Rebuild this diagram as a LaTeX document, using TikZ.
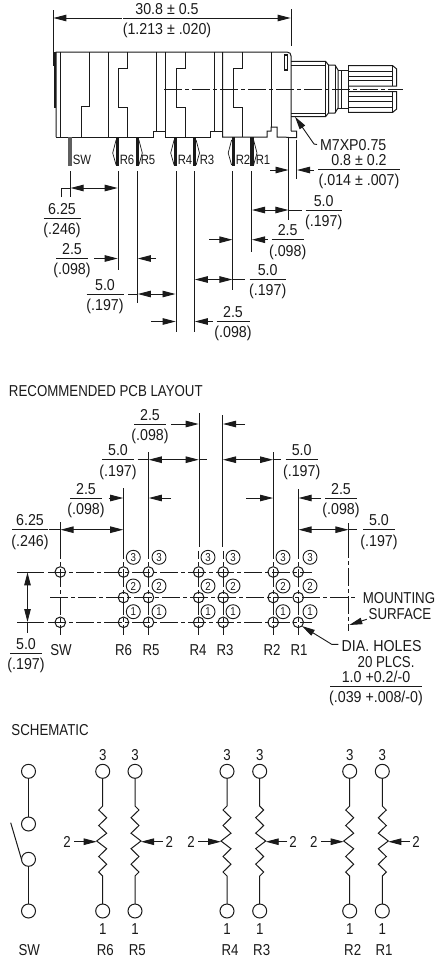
\documentclass[tikz,border=0pt]{standalone}
\usepackage{fontspec}
\setmainfont[FakeStretch=0.84]{Liberation Sans}
\newfontfamily\wider[FakeStretch=0.9]{Liberation Sans}
\usetikzlibrary{arrows.meta}
\definecolor{ink}{HTML}{1A1A1A}
\tikzset{
  x=1pt,y=-1pt,
  every node/.style={inner sep=0pt,outer sep=0pt,text=ink,font=\fontsize{15.8}{16}\selectfont,text height=11.3pt,text depth=0pt},
  body/.style={line width=1pt,draw=ink,line join=miter},
  ext/.style={line width=0.9pt,draw=ink},
  dimline/.style={line width=0.9pt,draw=ink},
  tipR/.style={-{Triangle[length=13pt,width=6.5pt]}},
  tipL/.style={{Triangle[length=13pt,width=6.5pt]}-},
  tipB/.style={{Triangle[length=13pt,width=6.5pt]}-{Triangle[length=13pt,width=6.5pt]}},
  cline/.style={line width=0.9pt,draw=ink,dash pattern=on 18pt off 3pt on 4pt off 3pt},
  hole/.style={circle,draw=ink,line width=1pt,minimum size=10.6pt,fill=none,text height=0pt},
  tag/.style={circle,draw=ink,line width=0.9pt,minimum size=14pt,font=\fontsize{11.5}{12}\selectfont,text height=8.2pt},
  term/.style={circle,draw=ink,line width=1pt,minimum size=14pt,fill=white,text height=0pt},
  small/.style={font=\fontsize{13.5}{14}\selectfont,text height=9.6pt},
  res/.style={line width=1pt,draw=ink,line join=miter}
}
\newcounter{fr}
\newcommand\dfrac[5]{% x, y, half width, top, bottom
  \stepcounter{fr}
  \node (ft\thefr) at (#1,#2-9.5) {\wider #4};
  \node (fb\thefr) at (#1,#2+10.8) {\wider #5};
  \draw[line width=0.9pt,draw=ink] (#1-#3,#2) -- (#1+#3,#2);
}
\newcommand\resis[7]{% name, x, sign, arrow tail x, 2 x, label x, label
  \node[term] (#1t) at (#2,771.3) {};
  \node[term] (#1b) at (#2,911) {};
  \node (#1n3) at (#2,754.5) {3};
  \node (#1n1) at (#2,929) {1};
  \node (#1w) at (#5,842) {2};
  \node (#1l) at (#6,950) {#7};
  \coordinate (#1tip) at (#2+#3*6,841.7);
  \draw[res] (#1t) -- (#2,806)
    -- (#2+#3*4,810) -- (#2-#3*4,817.7) -- (#2+#3*4,825.5) -- (#2-#3*4,833.2) -- (#2+#3*6,841)
    -- (#2-#3*4,848.7) -- (#2+#3*4,856.5) -- (#2-#3*4,864.2) -- (#2+#3*4,872) -- (#2,876) -- (#1b);
  \draw[dimline,tipR] (#4,841.7) -- (#1tip);
}
\begin{document}
\begin{tikzpicture}
\useasboundingbox (0,0) rectangle (435,959);
\fill[white] (0,0) rectangle (435,959);

% ---------- top view: overall dimension
\draw[ext] (53,10) -- (53,66);
\draw[ext] (291,9) -- (291,46);
\draw[dimline,tipL] (53.4,18) -- (122,18);
\draw[dimline,tipR] (207,18) -- (290.6,18);
\dfrac{167}{18}{44}{30.8 ± 0.5}{(1.213 ± .020)}

% body outline
\draw[body] (56,137) -- (56,52) -- (287,52) .. controls (290,52) and (291,54) .. (291,56) -- (291,131);
\draw[body] (56,137) -- (153,137) -- (153,131) -- (156.5,131) -- (156.5,52);
\draw[line width=2.4pt,draw=ink] (55,52) -- (55,108);
\draw[body] (60.5,52) -- (60.5,138);
\draw[body] (89.5,52) -- (89.5,106) -- (81.5,106) -- (81.5,137);
\draw[body] (108.5,52) -- (108.5,137);
\draw[body] (127.5,52) -- (127.5,68) -- (118.5,68) -- (118.5,107.5) -- (127.5,107.5) -- (127.5,137);
\draw[body] (156.5,131) -- (165.5,131);
\draw[body] (165.5,52) -- (165.5,137) -- (210,137) -- (210,131) -- (214,131) -- (214,52);
\draw[body] (185,52) -- (185,68) -- (176,68) -- (176,107.5) -- (185,107.5) -- (185,137);
\draw[body] (214,131) -- (222.7,131);
\draw[body] (222.7,52) -- (222.7,137) -- (267,137) -- (267,131) -- (271,131) -- (271,127) -- (277,127) -- (277,137) -- (284,137) -- (289,137.5) -- (296.5,137.5) -- (296.5,131) -- (291,131);
\draw[body] (242,52) -- (242,68) -- (233,68) -- (233,107.5) -- (242,107.5) -- (242,137);
\draw[body] (271,52) -- (271,127);
\draw[line width=1.2pt,draw=ink] (284.5,70) -- (284.5,55) -- (287.5,55) -- (287.5,70) -- cycle;

% bushing
\draw[body] (291,61.3) -- (325.5,61.3) -- (328.5,65) -- (328.5,113) -- (325.5,116.7) -- (291,116.7);
\draw[body] (291,65) -- (325.5,65) (325.5,61.3) -- (325.5,116.7) (291,113) -- (325.5,113);
\draw[body] (328.5,65) -- (335,65) -- (338,70) -- (338,108) -- (335,113) -- (328.5,113);
\draw[body] (335,65) -- (335,113);
\draw[body] (338,70) -- (348,70) (338,108) -- (348,108);
\draw[body] (341,70) -- (341,108);
% splined shaft
\draw[body] (348,65.7) -- (392.7,65.7) -- (396.7,69) -- (396.7,86) -- (348,86);
\draw[body] (348,91.7) -- (396.7,91.7) -- (396.7,109) -- (392.7,112.3) -- (348,112.3);
\draw[body] (348,65.7) -- (348,112.3);
\draw[body] (392.7,65.7) -- (392.7,86) (392.7,91.7) -- (392.7,112.3);
\foreach \yy in {71,76,80.7,96.7,101.7,107.3} \draw[line width=0.8pt,draw=ink] (348,\yy) -- (392.7,\yy);
\draw[cline] (164,89) -- (403,89);

% pins
\fill[ink!70] (68,137) rectangle (72,166);
\foreach \px/\sg in {117.7/-1,137.3/1,175.7/-1,194.5/1,233.2/-1,252/1}{
  \fill[ink] (\px-1.6,137) -- (\px+1.6,137) -- (\px+1.6,166) -- (\px-1.6,166) -- cycle;
  \draw[line width=0.7pt,draw=ink] (\px+\sg*1.6,140) -- (\px+\sg*5,153) -- (\px+\sg*1.6,165);
}
\node[small] (pSW) at (82,159.5) {SW};
\node[small] (pR6) at (127,159.5) {R6};
\node[small] (pR5) at (148,159.5) {R5};
\node[small] (pR4) at (185,159.5) {R4};
\node[small] (pR3) at (207,159.5) {R3};
\node[small] (pR2) at (243,159.5) {R2};
\node[small] (pR1) at (263,159.5) {R1};

% extension lines below pins
\draw[ext] (70.3,171) -- (70.3,197);
\draw[ext] (61,197) -- (61,188);
\draw[ext] (118,171) -- (118,270);
\draw[ext] (137.5,171) -- (137.5,302.5);
\draw[ext] (176,171) -- (176,332);
\draw[ext] (194.5,171) -- (194.5,332);
\draw[ext] (232.7,171) -- (232.7,290);
\draw[ext] (251.7,171) -- (251.7,251.5);
\draw[ext] (288.7,138) -- (288.7,220);
\draw[ext] (296.7,140) -- (296.7,179);

% M7 label & leader
\node[anchor=west] (m7) at (320,144.5) {\wider M7XP0.75};
\coordinate (m7tip) at (295,116.7);
\draw[dimline,tipR] (m7.west) ++(-3,0) -- (314,144) -- (m7tip);

% dims under body
\draw[dimline,tipR] (270,170) -- (288.5,170);
\draw[dimline,tipR] (314,170) -- (297,170);
\dfrac{359}{169.5}{41}{0.8 ± 0.2}{(.014 ± .007)}

\draw[dimline,tipB] (70.6,188) -- (117.7,188);
\draw[dimline] (61,188) -- (71,188);
\dfrac{62}{218.5}{18.5}{6.25}{(.246)}

\draw[dimline,tipR] (94,258.5) -- (117.7,258.5);
\draw[dimline,tipR] (156,258.5) -- (137.8,258.5);
\dfrac{72}{258.5}{16}{2.5}{(.098)}

\draw[dimline,tipB] (137.8,294) -- (175.5,294);
\draw[dimline] (128,294) -- (138,294);
\dfrac{105}{294}{18.5}{5.0}{(.197)}

\draw[dimline,tipR] (151,321.5) -- (175.7,321.5);
\draw[dimline,tipR] (213,321.5) -- (194.8,321.5);
\dfrac{233}{321.5}{16.5}{2.5}{(.098)}

\draw[dimline,tipB] (194.8,279.5) -- (232.4,279.5);
\draw[dimline] (232,279.5) -- (245,279.5);
\dfrac{267.7}{279.5}{18}{5.0}{(.197)}

\draw[dimline,tipR] (209,239.7) -- (232.4,239.7);
\draw[dimline,tipR] (267.7,239.7) -- (252,239.7);
\dfrac{287.7}{239.7}{16}{2.5}{(.098)}

\draw[dimline,tipB] (252,210) -- (288.4,210);
\draw[dimline] (288,210) -- (301.7,210);
\dfrac{323.7}{210}{18}{5.0}{(.197)}

% ---------- PCB layout
\node[anchor=west] (pcbt) at (9,391) {RECOMMENDED PCB LAYOUT};

\draw[ext] (60.3,522) -- (60.3,551);
\draw[ext] (123.5,488) -- (123.5,551);
\draw[ext] (148.5,452) -- (148.5,551);
\draw[ext] (199,413) -- (199,547);
\draw[ext] (222.7,415) -- (222.7,547);
\draw[ext] (273.3,452) -- (273.3,551);
\draw[ext] (298.3,489) -- (298.3,551);
\draw[ext] (348.7,523) -- (348.7,550);

\draw[dimline,tipR] (171,424) -- (198.7,424);
\draw[dimline,tipR] (245,424) -- (223,424);
\dfrac{150}{424}{16}{2.5}{(.098)}

\draw[dimline,tipB] (148.8,459.7) -- (198.7,459.7);
\draw[dimline] (137.5,459.7) -- (149,459.7) (198.5,459.7) -- (207,459.7);
\dfrac{118}{459.7}{16}{5.0}{(.197)}

\draw[dimline,tipB] (223,459.7) -- (273,459.7);
\draw[dimline] (272.8,459.7) -- (281,459.7);
\dfrac{301.7}{459.7}{16}{5.0}{(.197)}

\draw[dimline,tipR] (108.5,498) -- (123.2,498);
\draw[dimline,tipR] (171,498) -- (148.8,498);
\dfrac{86}{498}{16}{2.5}{(.098)}

\draw[dimline,tipR] (246,498) -- (273,498);
\draw[dimline,tipR] (321,498) -- (298.6,498);
\dfrac{341}{498}{16}{2.5}{(.098)}

\draw[dimline,tipB] (60.6,529.7) -- (123.2,529.7);
\draw[dimline] (48.5,529.7) -- (61,529.7);
\dfrac{30}{529.7}{18}{6.25}{(.246)}

\draw[dimline,tipB] (298.6,529.7) -- (348.4,529.7);
\draw[dimline] (348,529.7) -- (356.7,529.7);
\dfrac{379}{529.7}{16}{5.0}{(.197)}

% grid
\draw[cline] (48,572) -- (311.7,572);
\draw[cline] (50,597.5) -- (356,597.5);
\draw[cline] (48,622.3) -- (311.7,622.3);
\foreach \cx in {60.3,123.5,148.5,198.7,223.2,273.2,298.2}
  \draw[cline,dash phase=10pt] (\cx,551) -- (\cx,635);
\draw[cline,dash phase=10pt] (348.7,550) -- (348.7,631);

\foreach \nm/\cx in {a/60.3,b/123.5,c/148.5,d/198.7,e/223.2,f/273.2,g/298.2}{
  \node[hole] (h\nm1) at (\cx,572) {};
  \node[hole] (h\nm3) at (\cx,622.3) {};
}
\foreach \nm/\cx in {b/123.5,c/148.5,d/198.7,e/223.2,f/273.2,g/298.2}
  \node[hole] (h\nm2) at (\cx,597.5) {};
\foreach \nm/\tx in {b/133.3,c/159,d/208,e/233,f/283,g/310}{
  \node[tag,fill=white] (t\nm3) at (\tx,557.3) {3};
  \node[tag,fill=white] (t\nm2) at (\tx,586) {2};
  \node[tag,fill=white] (t\nm1) at (\tx,611.7) {1};
}

\draw[ext] (17,572) -- (44,572);
\draw[ext] (17,622.3) -- (44,622.3);
\draw[dimline,tipB] (27.5,572.4) -- (27.5,622);
\draw[dimline] (27.5,622) -- (27.5,633);
\dfrac{26}{653}{16}{5.0}{(.197)}

\node (gSW) at (61,649.5) {SW};
\node (gR6) at (123.5,649.5) {R6};
\node (gR5) at (151,649.5) {R5};
\node (gR4) at (198,649.5) {R4};
\node (gR3) at (225,649.5) {R3};
\node (gR2) at (272,649.5) {R2};
\node (gR1) at (299,649.5) {R1};

\node (mnt) at (399,598) {MOUNTING};
\node (srf) at (400,614) {SURFACE};
\coordinate (srftip) at (349.3,625);
\draw[dimline,tipR] (366.7,619.3) -- (srftip);

\node[anchor=west] (dia) at (341.7,645.5) {\wider DIA. HOLES};
\node[anchor=west] (plc) at (357.7,661.5) {20 PLCS.};
\draw[dimline,tipR] (338.3,644.3) -- (331.7,644.3) -- (hg3.south east);
\dfrac{376}{686}{46}{1.0 +0.2/-0}{(.039 +.008/-0)}

% ---------- schematic
\node[anchor=west] (scht) at (11.5,730) {SCHEMATIC};

\node[term] (s1) at (28.5,771.3) {};
\node[term] (s2) at (28.5,824) {};
\node[term] (s3) at (28.5,859.3) {};
\node[term] (s4) at (28.5,911) {};
\draw[res] (s1) -- (s2);
\draw[res] (s3) -- (s4);
\coordinate (blade) at (10.7,822.7);
\draw[res] (blade) -- (s3.west);
\node (sl) at (29.3,950) {SW};

\resis{r6}{102.7}{-1}{74}{67}{105.3}{R6}
\resis{r5}{135}{1}{163}{169.3}{137.3}{R5}
\resis{r4}{227}{-1}{198}{191}{230}{R4}
\resis{r3}{259.7}{1}{287.3}{293}{261.7}{R3}
\resis{r2}{349.7}{-1}{321}{313.7}{352.7}{R2}
\resis{r1}{382.3}{1}{410}{416}{384}{R1}
\end{tikzpicture}
\end{document}
